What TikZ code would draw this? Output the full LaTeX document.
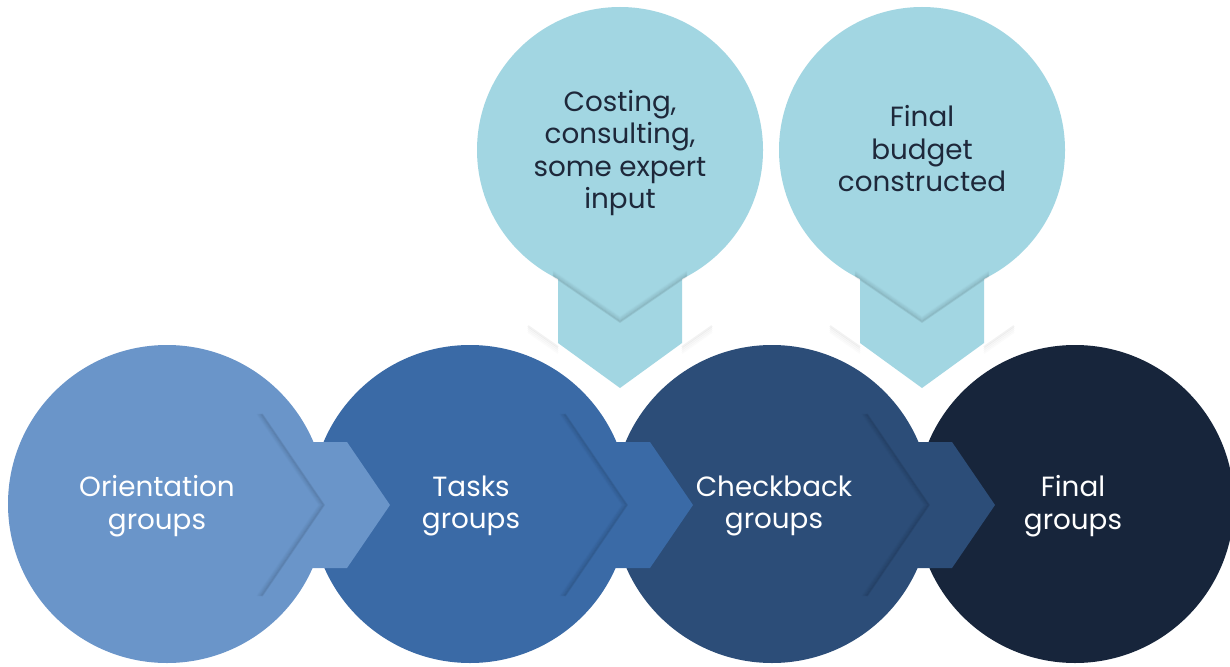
\documentclass[tikz,border=0pt]{standalone}
\usepackage{fontspec}
\setmainfont{Poppins}
\begin{document}
\begin{tikzpicture}[x=1pt,y=-1pt,
  lbl/.style={align=center,font=\fontsize{27.8}{32.5}\selectfont,text=white,inner sep=0pt},
  ulbl/.style={align=center,font=\fontsize{27.8}{32.5}\selectfont,text=txtDark,inner sep=0pt},
  shd/.style={draw=black,line width=1.6pt,line join=miter}]
\definecolor{cOne}{RGB}{106,149,201}
\definecolor{cTwo}{RGB}{58,106,166}
\definecolor{cThree}{RGB}{44,77,120}
\definecolor{cFour}{RGB}{23,37,59}
\definecolor{cUp}{RGB}{162,214,226}
\definecolor{txtDark}{RGB}{30,40,58}
\useasboundingbox (0,0) rectangle (1230,666);
\fill[white] (0,0) rectangle (1230,666);
% lower circles
\foreach \cx/\col [count=\i] in {167/cOne,470/cTwo,772/cThree,1075/cFour}{
  \fill[\col] (\cx,504) circle[radius=159];
  \coordinate (c\i) at (\cx,504);
}
% upper circles
\foreach \cx [count=\i] in {620,922}{
  \fill[cUp] (\cx,150) circle[radius=143];
  \coordinate (u\i) at (\cx,150);
  % white chevron outer shadow (soft)
  \foreach \k/\o in {1/0.05,3/0.035,5/0.025,7/0.015}{
    \draw[draw=black,opacity=\o,line width=2pt]
      (\cx-92,325+\k) -- (\cx-62,346+\k);
    \draw[draw=black,opacity=\o,line width=2pt]
      (\cx+62,346+\k) -- (\cx+92,325+\k);
  }
  % vertical pointer
  \fill[cUp] (\cx-62,250) -- (\cx-62,343) -- (\cx,388) -- (\cx+62,343) -- (\cx+62,250) -- cycle;
  % notch shadow
  \foreach \k/\o in {1/0.08,2/0.06,3/0.045,4/0.03,5/0.02,6/0.01}{
    \draw[shd,opacity=\o] (\cx-67,277-\k) -- (\cx,323-\k) -- (\cx+67,277-\k);
  }
}
% horizontal tabs
\foreach \cx/\col in {167/cOne,470/cTwo,772/cThree}{
  \fill[\col] (\cx+100,442) -- (\cx+180,442) -- (\cx+223,505) -- (\cx+180,568) -- (\cx+100,568) -- cycle;
  \foreach \k/\o in {1/0.08,2/0.06,3/0.045,4/0.03,5/0.02,6/0.01}{
    \draw[shd,opacity=\o] (\cx+96-\k,414) -- (\cx+158-\k,505) -- (\cx+96-\k,596);
  }
}
% labels
\node[lbl] (t1) at (157,506) {Orientation\\groups};
\node[lbl] (t2) at (471,506) {Tasks\\groups};
\node[lbl] (t3) at (774,506) {Checkback\\groups};
\node[lbl] (t4) at (1073,506) {Final\\groups};
\node[ulbl] (ta) at (620,153) {Costing,\\consulting,\\some expert\\input};
\node[ulbl] (tb) at (922,149) {Final\\budget\\constructed};
\end{tikzpicture}
\end{document}
